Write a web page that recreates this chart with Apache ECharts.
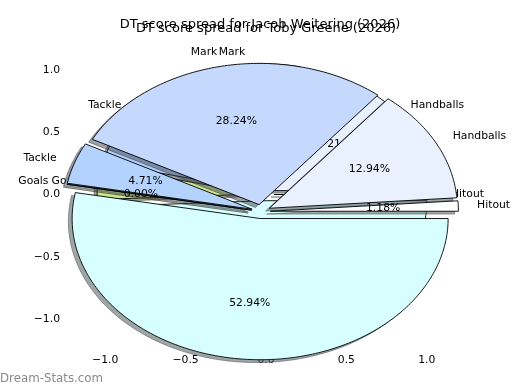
<!DOCTYPE html>
<html><head><meta charset="utf-8">
<script src="https://cdn.jsdelivr.net/npm/echarts@6/dist/echarts.min.js"></script>
<style>html,body{margin:0;padding:0;background:#fff}#chart{width:520px;height:390px}</style>
</head><body><div id="chart"></div>
<script>
// ---- data ----
const categories = ['Hitout', 'Handballs', 'Mark', 'Tackle', 'Goals', 'Kick'];
const sliceLabels = ['Hitout', 'Handballs', 'Mark', 'Tackle', 'Goals', ''];
const weiteringValues = [1, 11, 24, 4, 0, 45];   // front pie
const greeneValues = [0, 30, 15, 20, 6, 69];     // back pie
const tickValues = [-1.0, -0.5, 0.0, 0.5, 1.0];
const titleWeitering = 'DT score spread for Jacob Weitering (2026)';
const titleGreene = 'DT score spread for Toby Greene (2026)';
const watermark = 'Dream-Stats.com';
const sliceColors = ['#ffffff', '#e9f0fe', '#c5d9fe', '#b4d2fe', '#cfe690', '#d8ffff'];

const FONT = 'DejaVu Sans';
function toSlices(values) {
  const total = values.reduce((a, b) => a + b, 0);
  let acc = 0;
  return values.map((v, i) => {
    const s = acc / total; acc += v; const e = acc / total;
    return { name: categories[i], value: [v, s, e] };
  });
}
function shadowOf(hex) {
  const r = parseInt(hex.slice(1, 3), 16), g = parseInt(hex.slice(3, 5), 16), b = parseInt(hex.slice(5, 7), 16);
  return 'rgba(' + Math.round(r * 0.3) + ',' + Math.round(g * 0.3) + ',' + Math.round(b * 0.3) + ',0.5)';
}
function pieRenderer(explode) {
  return function (params, api) {
    const i = params.dataIndex;
    const f1 = api.value(1), f2 = api.value(2);
    const t1 = f1 * 2 * Math.PI, t2 = f2 * 2 * Math.PI;
    const tm = (t1 + t2) / 2;
    const cx = explode * Math.cos(tm), cy = explode * Math.sin(tm);
    const steps = Math.max(1, Math.ceil((t2 - t1) / (Math.PI / 180)));
    const pts = [[cx, cy]];
    for (let k = 0; k <= steps; k++) {
      const t = t1 + (t2 - t1) * k / steps;
      pts.push([cx + Math.cos(t), cy + Math.sin(t)]);
    }
    const px = pts.map(p => api.coord(p));
    const sh = pts.map(p => api.coord([p[0] - 0.02, p[1] - 0.02]));
    const col = sliceColors[i];
    const sc = shadowOf(col);
    const lx = cx + 1.1 * Math.cos(tm), ly = cy + 1.1 * Math.sin(tm);
    const lp = api.coord([lx, ly]);
    const pp = api.coord([cx + 0.6 * Math.cos(tm), cy + 0.6 * Math.sin(tm)]);
    const al = lx > 0 ? 'left' : 'right';
    return {
      type: 'group',
      children: [
        { type: 'polygon', z2: 0, shape: { points: sh }, style: { fill: sc, stroke: sc, lineWidth: 1 } },
        { type: 'polygon', z2: 1, shape: { points: px }, style: { fill: col, stroke: '#000', lineWidth: 0.9 } },
        { type: 'text', z2: 3, x: lp[0], y: lp[1], style: { text: sliceLabels[i], align: al, textAlign: al, verticalAlign: 'middle', textVerticalAlign: 'middle', fontSize: 10.8, fontFamily: FONT, fill: '#000' } },
        { type: 'text', z2: 3, x: pp[0], y: pp[1], style: { text: ((f2 - f1) * 100).toFixed(2) + '%', align: 'center', textAlign: 'center', verticalAlign: 'middle', textVerticalAlign: 'middle', fontSize: 10.8, fontFamily: FONT, fill: '#000' } }
      ]
    };
  };
}
const fmt = v => (v < 0 ? '\u2212' : '') + Math.abs(v).toFixed(1);
const tickStyle = { show: true, customValues: tickValues, length: 4, lineStyle: { color: '#b0b0b0', width: 1 } };
const baseAxis = { type: 'value', min: -1.25, max: 1.25, splitLine: { show: false }, axisLine: { show: false } };
const lab = { show: true, customValues: tickValues, formatter: fmt, color: '#000', fontSize: 10.8, fontFamily: FONT };

const chart = echarts.init(document.getElementById('chart'), null, { renderer: 'canvas' });
chart.setOption({
  animation: false,
  backgroundColor: '#fff',
  grid: [
    { left: 65, right: 53, top: 39, bottom: 40, outerBoundsMode: 'none' },
    { left: 26, right: 24, top: 35, bottom: 2, outerBoundsMode: 'none' }
  ],
  xAxis: [
    Object.assign({}, baseAxis, { gridIndex: 0, position: 'bottom', axisTick: tickStyle, axisLabel: Object.assign({}, lab, { margin: 5 }) }),
    Object.assign({}, baseAxis, { gridIndex: 0, position: 'top', axisTick: tickStyle, axisLabel: { show: false } }),
    Object.assign({}, baseAxis, { gridIndex: 1, show: false })
  ],
  yAxis: [
    Object.assign({}, baseAxis, { gridIndex: 0, position: 'left', axisTick: tickStyle, axisLabel: Object.assign({}, lab, { margin: 5 }) }),
    Object.assign({}, baseAxis, { gridIndex: 0, position: 'right', axisTick: tickStyle, axisLabel: { show: false } }),
    Object.assign({}, baseAxis, { gridIndex: 1, show: false })
  ],
  series: [
    { name: 'Toby Greene', type: 'custom', xAxisIndex: 0, yAxisIndex: 0, z: 2, clip: false,
      renderItem: pieRenderer(0.05), data: toSlices(greeneValues) },
    { name: 'Jacob Weitering', type: 'custom', xAxisIndex: 2, yAxisIndex: 2, z: 10, clip: false,
      renderItem: pieRenderer(0.05), data: toSlices(weiteringValues) }
  ],
  graphic: [
    { type: 'text', x: 260, y: 24.5, z: 20, style: { text: titleWeitering, align: 'center', textAlign: 'center', verticalAlign: 'middle', textVerticalAlign: 'middle', fontSize: 13, fontFamily: FONT, fill: '#000' } },
    { type: 'text', x: 266, y: 29, z: 20, style: { text: titleGreene, align: 'center', textAlign: 'center', verticalAlign: 'middle', textVerticalAlign: 'middle', fontSize: 13, fontFamily: FONT, fill: '#000' } },
    { type: 'text', x: 0, y: 379, z: 20, style: { text: watermark, align: 'left', textAlign: 'left', verticalAlign: 'middle', textVerticalAlign: 'middle', fontSize: 11.8, fontFamily: FONT, fill: '#8a8a8a' } }
  ]
});
</script></body></html>
